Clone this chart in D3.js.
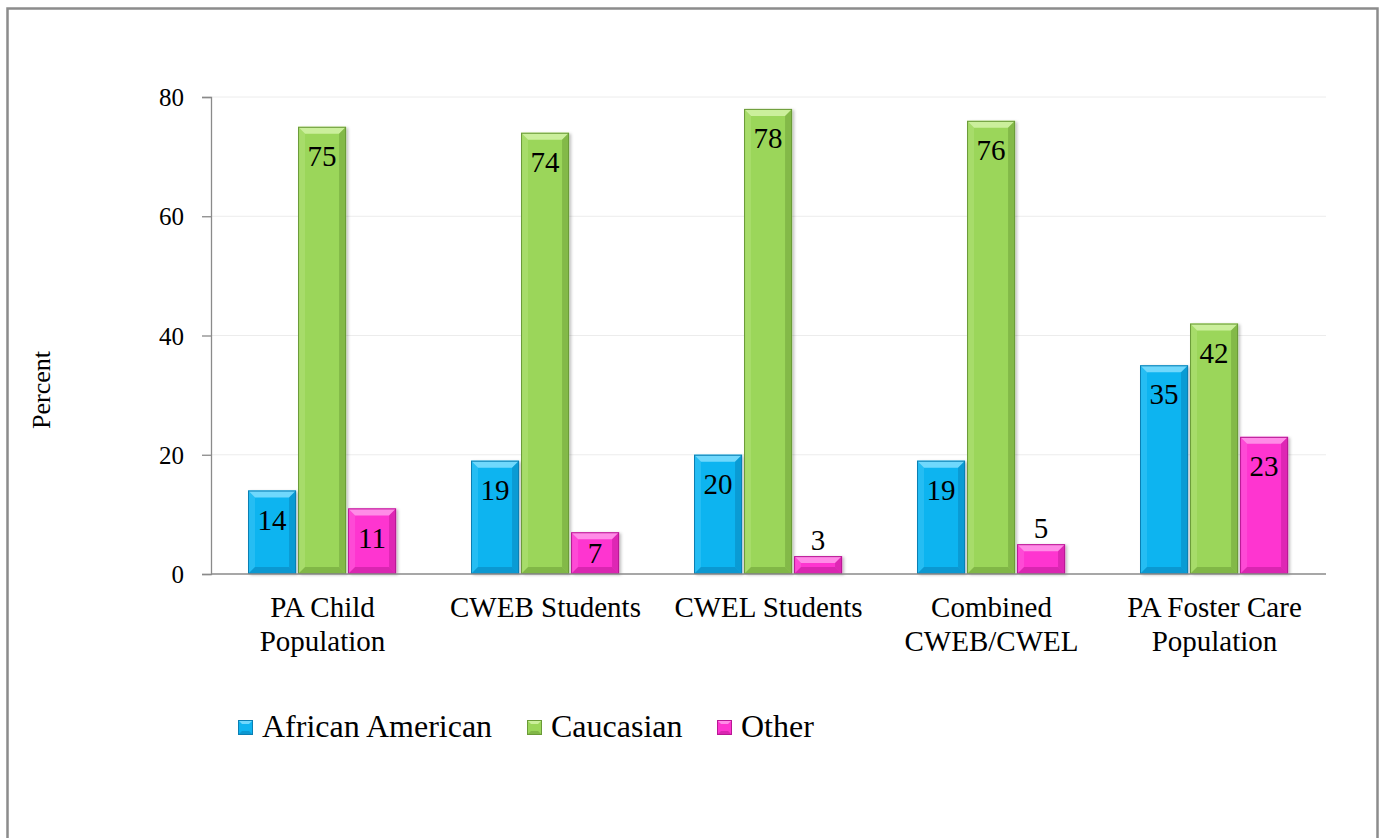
<!DOCTYPE html>
<html>
<head>
<meta charset="utf-8">
<script src="https://cdn.jsdelivr.net/npm/d3@7"></script>
<style>
  html, body { margin: 0; padding: 0; background: #fff; }
  svg { display: block; }
  text { font-family: "Liberation Serif", "Times New Roman", serif; fill: #000; }
</style>
</head>
<body>
<svg id="chart" width="1382" height="838"></svg>
<script>
// ---- data ----
const categories = [["PA Child", "Population"], ["CWEB Students"], ["CWEL Students"], ["Combined", "CWEB/CWEL"], ["PA Foster Care", "Population"]];
const seriesNames = ["African American", "Caucasian", "Other"];
const africanAmerican = [14, 19, 20, 19, 35];
const caucasian = [75, 74, 78, 76, 42];
const other = [11, 7, 3, 5, 23];
const yTicks = [0, 20, 40, 60, 80];

const seriesValues = [africanAmerican, caucasian, other];
const palette = [
  { base: "#0fb4f0", light: "#70d8fc", dark: "#0a86bd", edge: "#0b7fb3" },
  { base: "#9bd65a", light: "#cbef9c", dark: "#6fa23a", edge: "#6a9a38" },
  { base: "#fe36d0", light: "#ff8ce7", dark: "#c21c9c", edge: "#b81894" }
];

const svg = d3.select("#chart");
const defs = svg.append("defs");
const fr = defs.append("filter").attr("id", "shadow").attr("x", "-20%").attr("y", "-20%").attr("width", "150%").attr("height", "140%");
fr.append("feDropShadow").attr("dx", 2).attr("dy", 1).attr("stdDeviation", 1.5).attr("flood-color", "#000").attr("flood-opacity", 0.25);

// frame
svg.append("rect").attr("x", 7.5).attr("y", 8.5).attr("width", 1370).attr("height", 860)
  .attr("fill", "none").attr("stroke", "#8c8c8c").attr("stroke-width", 2.5);

const plotL = 211, plotR = 1326, plotT = 97, plotB = 574;
const y = d3.scaleLinear().domain([0, 80]).range([plotB, plotT]);
const x0 = d3.scaleBand().domain(d3.range(categories.length)).range([plotL, plotR]).padding(0);
const bw0 = x0.bandwidth();
const x1 = d3.scaleBand().domain(d3.range(seriesNames.length)).range([bw0 * 0.166, bw0 * 0.830]).paddingInner(0.04).paddingOuter(0);

// gridlines
svg.append("g").selectAll("line").data(yTicks.filter(d => d > 0)).join("line")
  .attr("x1", plotL).attr("x2", plotR).attr("y1", d => y(d)).attr("y2", d => y(d))
  .attr("stroke", "#ececec").attr("stroke-width", 1);

// y axis
const yAxis = d3.axisLeft(y).tickValues(yTicks).tickSize(9).tickPadding(18).tickFormat(d3.format("d"));
const gy = svg.append("g").attr("transform", `translate(${plotL},0)`).call(yAxis);
gy.attr("font-family", null);
gy.select(".domain").attr("stroke", "#8a8a8a").attr("stroke-width", 1.3);
gy.selectAll(".tick line").attr("stroke", "#8a8a8a").attr("stroke-width", 1.3);
gy.selectAll(".tick text").attr("font-size", 25).attr("dy", "0.34em");

// y title
svg.append("text").attr("transform", `translate(50,390) rotate(-90)`).attr("text-anchor", "middle")
  .attr("font-size", 26).text("Percent");

// bars
const bevel = 7;
const data = [];
categories.forEach((c, i) => seriesValues.forEach((vals, s) => data.push({ i, s, v: vals[i] })));

const bars = svg.append("g").selectAll("g").data(data).join("g")
  .attr("transform", d => `translate(${x0(d.i) + x1(d.s)},${y(d.v)})`);

bars.each(function (d) {
  const g = d3.select(this);
  const w = x1.bandwidth();
  const h = plotB - y(d.v);
  const p = palette[d.s];
  const b = Math.min(bevel, h / 2, w / 2);
  g.append("rect").attr("width", w).attr("height", h).attr("fill", p.base).attr("filter", "url(#shadow)");
  g.append("path").attr("d", `M0,0 L${w},0 L${w - b},${b} L${b},${b} Z`).attr("fill", p.light);
  g.append("path").attr("d", `M0,0 L${b},${b} L${b},${h - b} L0,${h} Z`).attr("fill", p.light).attr("opacity", 0.25);
  g.append("path").attr("d", `M${w},0 L${w - b},${b} L${w - b},${h - b} L${w},${h} Z`).attr("fill", p.dark).attr("opacity", 0.55);
  g.append("path").attr("d", `M0,${h} L${b},${h - b} L${w - b},${h - b} L${w},${h} Z`).attr("fill", p.dark).attr("opacity", 0.6);
  g.append("rect").attr("x", 0.5).attr("y", 0.5).attr("width", w - 1).attr("height", Math.max(0, h - 1))
    .attr("fill", "none").attr("stroke", p.edge).attr("stroke-width", 1);
});

// value labels
svg.append("g").selectAll("text").data(data).join("text")
  .attr("x", d => x0(d.i) + x1(d.s) + x1.bandwidth() / 2)
  .attr("y", d => {
    const top = y(d.v);
    if (d.v < 6) return top - 16;
    return Math.min(top + 29, (top + plotB) / 2);
  })
  .attr("dy", "0.35em").attr("text-anchor", "middle").attr("font-size", 29)
  .text(d => d.v);

// x axis line
svg.append("line").attr("x1", plotL).attr("x2", plotR).attr("y1", plotB).attr("y2", plotB)
  .attr("stroke", "#8a8a8a").attr("stroke-width", 1.3);

// category labels
const cat = svg.append("g").selectAll("text").data(categories).join("text")
  .attr("text-anchor", "middle").attr("font-size", 29)
  .attr("x", (d, i) => x0(i) + bw0 / 2).attr("y", 617);
cat.selectAll("tspan").data(d => d).join("tspan")
  .attr("x", function () { return d3.select(this.parentNode).attr("x"); })
  .attr("dy", (d, k) => k === 0 ? 0 : 34)
  .text(d => d);

// legend
const legendX = [238, 527, 717];
const leg = svg.append("g").selectAll("g").data(seriesNames).join("g")
  .attr("transform", (d, s) => `translate(${legendX[s]},720)`);
leg.each(function (d, s) {
  const g = d3.select(this);
  const p = palette[s];
  const sz = 15, b = 4;
  g.append("rect").attr("width", sz).attr("height", sz).attr("fill", p.base);
  g.append("path").attr("d", `M0,0 L${sz},0 L${sz - b},${b} L${b},${b} Z`).attr("fill", p.light);
  g.append("path").attr("d", `M0,${sz} L${b},${sz - b} L${sz - b},${sz - b} L${sz},${sz} Z`).attr("fill", p.dark).attr("opacity", 0.6);
  g.append("rect").attr("x", 0.5).attr("y", 0.5).attr("width", sz - 1).attr("height", sz - 1).attr("fill", "none").attr("stroke", p.edge);
  g.append("text").attr("x", 24).attr("y", 17).attr("font-size", 32).text(d);
});
</script>
</body>
</html>
